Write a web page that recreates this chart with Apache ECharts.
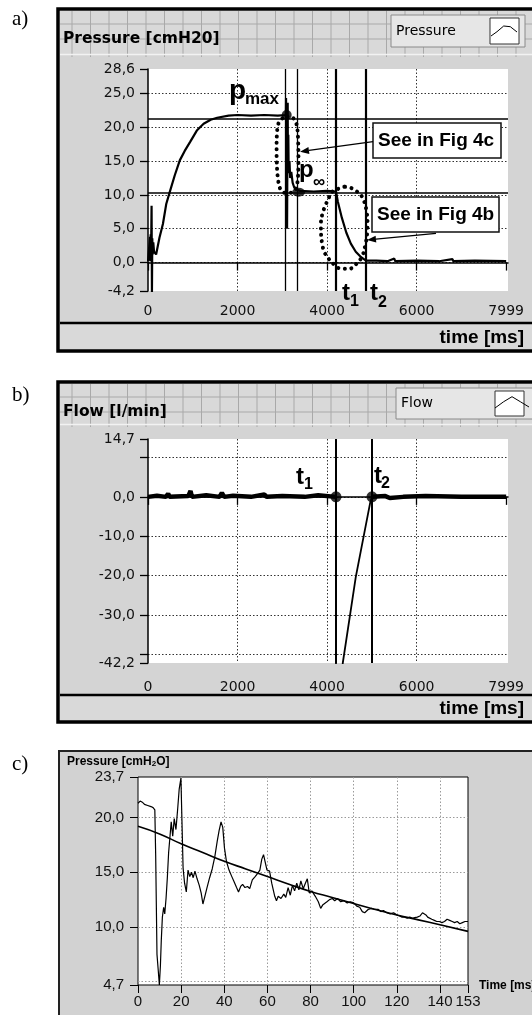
<!DOCTYPE html>
<html>
<head>
<meta charset="utf-8">
<title>Pressure / flow record</title>
<script src="https://cdn.jsdelivr.net/npm/echarts@6/dist/echarts.min.js"></script>
<style>
  html, body { margin: 0; padding: 0; background: #fff; }
  #chart { width: 532px; height: 1015px; }
</style>
</head>
<body>
<div id="chart"></div>
<script>
// ---- a) pressure [cmH2O] vs time [ms]
const pressureTrace = [
  [0,0.2],[30,0.1],[45,3.8],[52,0.2],[60,4.2],[68,1.0],[80,8.4],[88,-4.6],[96,3.6],[104,1.2],[118,3.0],[135,1.6],
  [181,1.2],[257,3.7],[333,5.7],[409,8.7],[485,10.4],[598,12.9],[710,15.1],[820,16.5],[938,17.8],[1090,19.5],
  [1242,20.5],[1400,21.1],[1545,21.4],[1800,21.7],[2000,21.8],[2300,21.7],[2600,21.8],[2900,21.7],[3080,21.8],
  [3083,24.3],[3086,21.8],[3098,21.4],[3106,5.0],[3110,11.0],[3116,19.5],[3120,23.6],[3124,15.2],[3130,14.0],
  [3134,18.9],[3140,14.5],[3150,13.2],[3160,15.0],[3175,12.5],[3200,13.4],[3230,11.8],[3260,11.2],[3300,10.8],
  [3400,10.6],[3700,10.5],[4000,10.6],[4198,10.5],[4240,9.0],[4330,6.6],[4430,4.4],[4530,2.8],[4640,1.6],
  [4760,0.8],[4868,0.3],[5100,0.3],[5350,0.2],[5500,0.6],[5520,0.2],[6000,0.3],[6500,0.2],[6800,0.5],
  [6820,0.2],[7300,0.3],[7999,0.2]
];
const loopFig4c = [
  [3000,21.3],[2930,20.8],[2895,20.0],[2878,18.8],[2872,17.5],[2872,16.2],[2876,14.9],[2885,13.6],[2900,12.5],
  [2925,11.5],[2960,10.8],[3010,10.4],[3080,10.3],[3150,10.3],[3230,10.4],[3290,10.8],[3330,11.6],[3350,12.7],
  [3358,14.0],[3360,15.4],[3358,16.8],[3352,18.2],[3340,19.5],[3310,20.6],[3250,21.3],[3150,21.6],[3000,21.3]
];
const loopFig4b = [
  [4386,11.2],[4250,10.9],[4120,10.5],[4040,9.6],[3960,8.4],[3895,7.2],[3862,5.7],[3866,4.1],[3890,2.8],
  [3935,1.6],[4031,0.6],[4158,-0.3],[4310,-0.9],[4500,-0.9],[4652,-0.2],[4780,0.9],[4850,2.5],[4895,4.4],
  [4902,6.0],[4880,7.6],[4830,9.0],[4750,10.0],[4620,10.7],[4500,11.1],[4386,11.2]
];
const pressureMarks = [[3097,21.8],[3363,10.4]];      // p_max, p_inf
const pressureCursorT = [3059, 3341, 4198, 4868];
const pressureCursorP = [21.3, 10.3];
const pressureTicksY = [-4.2, 0, 5, 10, 15, 20, 25, 28.6];
const pressureGridY = [0, 5, 10, 15, 20, 25];
const timeTicks = [0, 2000, 4000, 6000, 7999];
const timeGrid = [2000, 4000, 6000];

// ---- b) flow [l/min] vs time [ms]
const flowBefore = [
  [0,0],[200,0.3],[400,0],[450,0.8],[480,0],[900,0.2],[950,1.5],[980,0],[1300,0.4],[1600,0],[1650,1.0],[1700,0],
  [1900,0.3],[2300,0],[2600,0.6],[2650,0],[3000,0.2],[3500,0],[3800,0.4],[4198,0]
];
const flowRamp = [[4198,0],[4199,-50],[4300,-50],[4350,-42.2],[4425,-36.6],[4640,-20.4],[4958,-1.7],[5002,0]];
const flowAfter = [[5002,0],[5300,0.2],[5400,-0.3],[5700,0],[6200,0.2],[7000,0],[7999,0]];
const flowMarks = [[4198,0],[5002,0]];              // t1, t2
const flowCursorT = [4198, 5002];
const flowTicksY = [-42.2, -40, -30, -20, -10, 0, 10, 14.7];
const flowLabelsY = [-42.2, -30, -20, -10, 0, 14.7];
const flowGridY = [-40, -30, -20, -10, 0, 10];

// ---- c) pressure after p_max, 0..153 ms
const zoomTrace = [
  [0,21.3],[1,21.5],[2,21.4],[3,21.2],[3.7,21.3],[4.5,21.1],[5.3,21.2],[6,21.0],[7,20.9],[7.8,20.7],[8.2,16.5],
  [8.5,12.0],[8.8,7.5],[9.4,6.0],[9.9,4.7],[10.4,6.5],[10.8,8.8],[11.3,10.9],[11.9,11.8],[12.4,11.2],[13.0,12.6],
  [13.6,14.5],[14.2,16.8],[14.8,18.2],[15.4,19.6],[16.1,18.3],[16.8,19.9],[17.6,18.9],[18.4,20.8],[19.1,22.6],
  [19.9,23.6],[20.4,19.5],[20.9,15.4],[21.6,14.0],[22.4,13.2],[23.2,15.2],[24.0,14.6],[24.8,15.0],[25.6,14.5],
  [26.4,15.1],[27.4,14.4],[28.4,13.8],[29.3,13.1],[30.1,12.1],[31.0,12.8],[32.0,13.6],[33.2,14.5],[34.4,15.3],
  [35.6,16.4],[36.7,17.8],[37.6,18.8],[38.5,19.6],[39.3,19.1],[40.1,17.2],[41.0,16.0],[42.2,15.2],[43.5,14.6],
  [44.6,14.1],[45.7,13.6],[46.6,13.2],[47.6,13.7],[48.5,13.9],[49.6,13.6],[50.8,13.7],[51.8,13.5],[53.0,14.3],
  [54.3,14.6],[55.5,14.9],[56.5,15.2],[57.4,16.2],[58.2,16.6],[59.0,15.9],[59.8,15.2],[61.0,15.1],[62.0,14.0],
  [63.4,12.8],[64.2,12.4],[65.0,12.8],[66.3,12.6],[67.6,13.0],[68.5,12.7],[69.6,13.6],[70.6,12.9],[71.6,13.8],
  [72.6,13.3],[73.6,14.0],[74.6,13.4],[75.5,14.2],[76.6,13.5],[77.6,14.0],[78.5,14.4],[79.4,13.1],[80.6,13.3],
  [82.2,12.8],[83.6,12.3],[84.7,11.7],[85.6,12.0],[86.5,11.9],[87.6,12.3],[88.8,12.5],[90.1,12.6],[91.2,12.4],
  [92.5,12.6],[94.0,12.3],[95.5,12.4],[97.0,12.2],[98.5,12.3],[100.0,12.2],[101.4,11.9],[102.8,11.8],[104.0,11.4],
  [105.1,11.3],[106.7,11.6],[108.3,11.7],[109.9,11.6],[111.4,11.6],[112.6,11.4],[113.8,11.5],[115.3,11.3],
  [116.9,11.2],[118.5,11.3],[120.1,11.1],[121.3,11.0],[122.4,10.9],[123.6,10.9],[124.8,10.8],[126.0,10.9],
  [127.2,10.8],[128.3,10.85],[129.5,10.9],[130.7,11.0],[131.9,11.3],[132.7,11.2],[133.5,11.1],[134.3,10.9],
  [135,10.8],[136.2,10.7],[137.4,10.6],[138.5,10.5],[139.7,10.5],[140.9,10.4],[142.1,10.5],[143.3,10.7],
  [144.5,10.6],[145.7,10.5],[146.8,10.4],[148,10.5],[149.2,10.3],[150.4,10.4],[151.6,10.5],[153,10.5]
];
const fitTrace = [
  [0,19.2],[10,18.5],[20,17.6],[30,16.8],[40,16.0],[50,15.3],[60,14.6],[70,13.9],[80,13.25],[90,12.7],
  [100,12.15],[110,11.6],[120,11.1],[130,10.65],[140,10.2],[153,9.6]
];
const zoomTicksX = [0, 20, 40, 60, 80, 100, 120, 140, 153];
const zoomGridX = [20, 40, 60, 80, 100, 120, 140];
const zoomTicksY = [4.7, 10, 15, 20, 23.7];
const zoomGridY = [5, 10, 15, 20];

const comma = v => v.toFixed(1).replace('.', ',');
const LV = 'DejaVu Sans';
const AR = 'Liberation Sans';

// ---- decorations (frames, LabVIEW-like headers, legends, annotations)
const deco = [];
function rect(x, y, w, h, style, z) {
  deco.push({ type: 'rect', shape: { x, y, width: w, height: h }, style, z: z == null ? -10 : z, silent: true });
}
function line(x1, y1, x2, y2, stroke, w, z) {
  deco.push({ type: 'line', shape: { x1, y1, x2, y2 }, style: { stroke, lineWidth: w }, z: z == null ? -9 : z, silent: true });
}
function text(str, x, y, font, opts) {
  const o = opts || {};
  deco.push({
    type: 'text', x, y, z: o.z == null ? 60 : o.z, silent: true,
    style: { text: str, font, fill: o.fill || '#000', textAlign: o.align || 'left', align: o.align || 'left',
             textVerticalAlign: 'middle', verticalAlign: 'middle' }
  });
}
function arrow(x1, y1, x2, y2) {
  const dx = x2 - x1, dy = y2 - y1, len = Math.hypot(dx, dy);
  const ux = dx / len, uy = dy / len, bx = x2 - 9 * ux, by = y2 - 9 * uy;
  line(x1, y1, bx, by, '#000', 1.3, 55);
  deco.push({ type: 'polygon', z: 55, silent: true, style: { fill: '#000' },
    shape: { points: [[x2, y2], [bx - 3.5 * uy, by + 3.5 * ux], [bx + 3.5 * uy, by - 3.5 * ux]] } });
}
function labviewPanel(top, headBottom, stripTop, bottom, title, legend, iconPts) {
  rect(60, top, 480, headBottom - top, { fill: '#d9d9d9' });
  for (let x = 72; x < 532; x += 18.5) line(x, top, x, headBottom + 3, '#a9a9a9', 1);
  line(60, top + 13, 540, top + 13, '#a9a9a9', 1);
  line(60, top + 28, 540, top + 28, '#a9a9a9', 1);
  rect(60, headBottom, 480, stripTop - headBottom, { fill: '#d4d4d4' });
  line(60, headBottom + 0.5, 540, headBottom + 0.5, '#f2f2f2', 1.5);
  rect(60, stripTop, 480, bottom - stripTop, { fill: '#d9d9d9' });
  line(60, stripTop, 540, stripTop, '#000', 2.5, -8);
  rect(58, top - 2, 490, bottom - top + 3, { fill: 'none', stroke: '#000', lineWidth: 3.5 }, -7);
  text(title, 63, top + 28, 'bold 15.5px "' + LV + '"', { z: -6 });
  text('time [ms]', 524, (stripTop + bottom) / 2 + 1, 'bold 19px "' + AR + '"', { align: 'right' });
  rect(legend.x, legend.y, legend.w, legend.h, { fill: '#e6e6e6', stroke: '#8a8a8a', lineWidth: 1 }, -6);
  text(legend.label, legend.x + 5, legend.y + legend.h / 2, '14px "' + LV + '"', { z: -5 });
  rect(legend.ix, legend.y + 3, 29, legend.h - 6, { fill: '#fff', stroke: '#333', lineWidth: 1 }, -5);
  deco.push({ type: 'polyline', z: -4, silent: true, shape: { points: iconPts }, style: { stroke: '#000', lineWidth: 1, fill: 'none' } });
}

// panel labels
text('a)', 12, 19, '21px "Liberation Serif"');
text('b)', 12, 395, '21px "Liberation Serif"');
text('c)', 12, 764, '21px "Liberation Serif"');

labviewPanel(11, 54, 323, 350, 'Pressure [cmH20]',
  { x: 391, y: 15, w: 134, h: 32, ix: 490, label: 'Pressure' },
  [[491, 36], [497, 31.7], [503.7, 26], [510.3, 26.7], [517, 32]]);
labviewPanel(384, 424, 695, 721, 'Flow [l/min]',
  { x: 396, y: 388, w: 150, h: 31, ix: 495, label: 'Flow' },
  [[495, 408], [503.7, 401.7], [512, 396.7], [520.3, 401.7], [529, 407]]);

// panel c frame
rect(59, 751, 480, 300, { fill: '#d2d2d2', stroke: '#222', lineWidth: 2 });
deco.push({ type: 'text', x: 67, y: 762, z: 60, silent: true,
  style: { text: '{a|Pressure [cmH}{s|2}{a|O]}', verticalAlign: 'middle', textVerticalAlign: 'middle',
    rich: { a: { font: 'bold 12px "' + AR + '"', fill: '#000' },
            s: { font: 'bold 8px "' + AR + '"', fill: '#000', verticalAlign: 'bottom', lineHeight: 9 } } } });
text('Time [ms]', 479, 986, 'bold 12px "' + AR + '"');

// annotations in a)
text('p', 229, 91, 'bold 28px "' + AR + '"');
text('max', 245, 99, 'bold 17px "' + AR + '"');
text('p', 299, 170, 'bold 24px "' + AR + '"');
text('\u221E', 313, 182, 'bold 17px "' + AR + '"');
text('t', 342, 293, 'bold 24px "' + AR + '"');
text('1', 350, 302, 'bold 16px "' + AR + '"');
text('t', 370, 293, 'bold 24px "' + AR + '"');
text('2', 378, 303, 'bold 16px "' + AR + '"');
rect(373, 123, 128, 35, { fill: '#fff', stroke: '#111', lineWidth: 1.5 }, 50);
text('See in Fig 4c', 378, 141, 'bold 19px "' + AR + '"');
arrow(373, 141.7, 300, 151.7);
rect(372, 197, 127, 35, { fill: '#fff', stroke: '#111', lineWidth: 1.5 }, 50);
text('See in Fig 4b', 377, 215, 'bold 19px "' + AR + '"');
arrow(436, 233.3, 367, 240);
// annotations in b)
text('t', 296, 477, 'bold 24px "' + AR + '"');
text('1', 304, 485, 'bold 16px "' + AR + '"');
text('t', 374, 476, 'bold 24px "' + AR + '"');
text('2', 381, 484, 'bold 16px "' + AR + '"');

// ---- axes helpers
const dotted = c => ({ show: true, lineStyle: { color: c, width: 1, type: [1.5, 2] } });
function lvX(grid, margin) {
  return [
    { type: 'value', gridIndex: grid, min: 0, max: 8040, position: 'bottom',
      axisLine: { show: false }, splitLine: { show: false },
      axisTick: { show: true, length: 8, customValues: timeTicks, lineStyle: { color: '#000', width: 1.3 } },
      axisLabel: { customValues: timeTicks, margin, color: '#111', fontFamily: LV, fontSize: 14, formatter: v => String(v) } },
    { type: 'value', gridIndex: grid, min: 0, max: 8040, position: 'top',
      axisLine: { show: true, lineStyle: { color: '#000', width: 1.5 } },
      axisTick: { show: false, customValues: timeGrid }, axisLabel: { show: false },
      splitLine: dotted('#333') }
  ];
}
function lvY(grid, min, max, ticks, labels, gridVals) {
  return [
    { type: 'value', gridIndex: grid, min, max, position: 'left',
      axisLine: { show: true, lineStyle: { color: '#000', width: 1.5 } }, splitLine: { show: false },
      axisTick: { show: true, length: 8, customValues: ticks, lineStyle: { color: '#000', width: 1.3 } },
      axisLabel: { customValues: labels, margin: 13, color: '#111', fontFamily: LV, fontSize: 14, formatter: comma } },
    { type: 'value', gridIndex: grid, min, max, position: 'right',
      axisLine: { show: false }, axisLabel: { show: false },
      axisTick: { show: false, customValues: gridVals }, splitLine: dotted('#333') }
  ];
}

const cursorLines = (ts, ps, w) => ts.map((t, i) => ({ xAxis: t, lineStyle: { width: w[i] } }))
  .concat(ps.map(p => ({ yAxis: p, lineStyle: { width: 1.5 } })));
const flowLine = (data, width) => ({ type: 'line', xAxisIndex: 2, yAxisIndex: 2, data, showSymbol: false, z: 5,
  lineStyle: { color: '#000', width } });

const option = {
  backgroundColor: '#fff',
  animation: false,
  graphic: { elements: deco },
  grid: [
    { left: 148, top: 69, width: 360, height: 222, show: true, backgroundColor: '#fff', borderWidth: 0 },
    { left: 148, top: 439, width: 360, height: 224, show: true, backgroundColor: '#fff', borderWidth: 0 },
    { left: 138, top: 777, width: 330, height: 208, show: true, backgroundColor: '#fff', borderColor: '#000', borderWidth: 1 }
  ],
  xAxis: [
    ...lvX(0, 13),
    ...lvX(1, 17),
    { type: 'value', gridIndex: 2, min: 0, max: 153, position: 'bottom',
      axisLine: { show: false }, splitLine: { show: false },
      axisTick: { show: true, length: 8, customValues: zoomTicksX, lineStyle: { color: '#000', width: 1 } },
      axisLabel: { customValues: zoomTicksX, margin: 9, color: '#111', fontFamily: AR, fontSize: 15, formatter: v => String(v) } },
    { type: 'value', gridIndex: 2, min: 0, max: 153, position: 'top',
      axisLine: { show: false }, axisLabel: { show: false },
      axisTick: { show: false, customValues: zoomGridX }, splitLine: dotted('#9a9a9a') }
  ],
  yAxis: [
    ...lvY(0, -4.2, 28.6, pressureTicksY, pressureTicksY, pressureGridY),
    ...lvY(1, -42.2, 14.7, flowTicksY, flowLabelsY, flowGridY),
    { type: 'value', gridIndex: 2, min: 4.7, max: 23.7, position: 'left',
      axisLine: { show: false }, splitLine: { show: false },
      axisTick: { show: true, length: 8, customValues: zoomTicksY, lineStyle: { color: '#000', width: 1 } },
      axisLabel: { customValues: zoomTicksY, margin: 14, color: '#111', fontFamily: AR, fontSize: 15, formatter: comma } },
    { type: 'value', gridIndex: 2, min: 4.7, max: 23.7, position: 'right',
      axisLine: { show: false }, axisLabel: { show: false },
      axisTick: { show: false, customValues: zoomGridY }, splitLine: dotted('#9a9a9a') }
  ],
  series: [
    { name: 'Pressure', type: 'line', xAxisIndex: 0, yAxisIndex: 0, data: pressureTrace, showSymbol: false, z: 5,
      lineStyle: { color: '#000', width: 2.2 },
      markLine: { silent: true, symbol: 'none', label: { show: false }, lineStyle: { color: '#000', type: 'solid' },
        data: cursorLines(pressureCursorT, pressureCursorP, [1.3, 1.3, 2.2, 2.2]) } },
    { name: 'Fig 4c', type: 'line', xAxisIndex: 0, yAxisIndex: 0, data: loopFig4c, showSymbol: false, smooth: 0.4, z: 6,
      lineStyle: { color: '#000', width: 4, type: [0.01, 6.5], cap: 'round' } },
    { name: 'Fig 4b', type: 'line', xAxisIndex: 0, yAxisIndex: 0, data: loopFig4b, showSymbol: false, smooth: 0.4, z: 6,
      lineStyle: { color: '#000', width: 4, type: [0.01, 6.5], cap: 'round' } },
    { type: 'scatter', xAxisIndex: 0, yAxisIndex: 0, z: 7, symbol: 'circle', itemStyle: { color: '#000' },
      data: [{ value: pressureMarks[0], symbolSize: 10 }, { value: pressureMarks[1], symbolSize: [13, 9] }] },
    Object.assign(flowLine(flowBefore, 4.5), { name: 'Flow',
      markLine: { silent: true, symbol: 'none', label: { show: false }, lineStyle: { color: '#000', type: 'solid' },
        data: flowCursorT.map(t => ({ xAxis: t, lineStyle: { width: 2 } })) } }),
    flowLine(flowRamp, 1.8),
    flowLine(flowAfter, 4.5),
    { type: 'scatter', xAxisIndex: 2, yAxisIndex: 2, z: 7, symbol: 'circle', symbolSize: 11,
      itemStyle: { color: '#000' }, data: flowMarks },
    { name: 'Measured', type: 'line', xAxisIndex: 4, yAxisIndex: 4, data: zoomTrace, showSymbol: false, z: 5,
      lineStyle: { color: '#000', width: 1.2 } },
    { name: 'Fit', type: 'line', xAxisIndex: 4, yAxisIndex: 4, data: fitTrace, showSymbol: false, smooth: true, z: 5,
      lineStyle: { color: '#000', width: 1.6 } }
  ]
};

const chart = echarts.init(document.getElementById('chart'));
chart.setOption(option);
</script>
</body>
</html>
